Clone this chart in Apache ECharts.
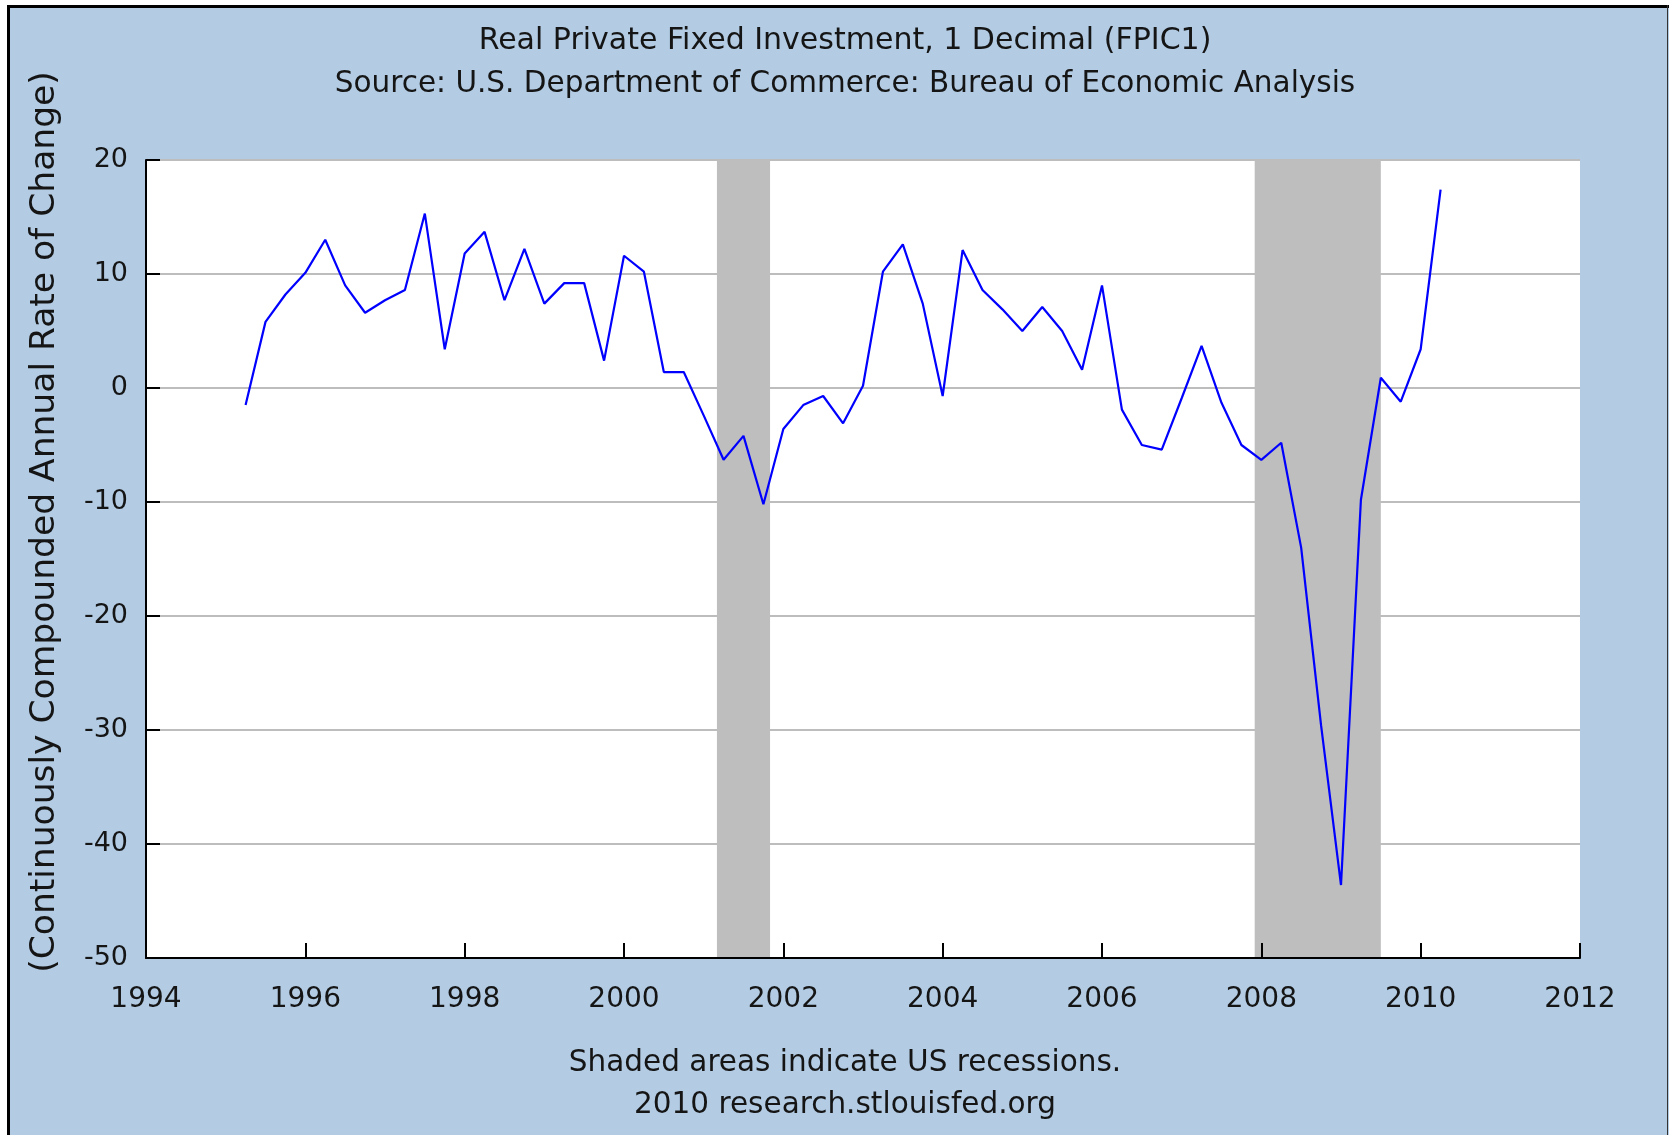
<!DOCTYPE html>
<html>
<head>
<meta charset="utf-8">
<script src="https://cdn.jsdelivr.net/npm/echarts@6.0.0/dist/echarts.min.js"></script>
<style>
  html, body { margin: 0; padding: 0; background: #fff; }
  #chart { position: absolute; left: 0; top: 0; width: 1669px; height: 1135px; }
  .edge { position: absolute; }
</style>
</head>
<body>
<div id="chart"></div>
<div class="edge" style="left:0;top:0;width:1669px;height:5px;background:#fff"></div>
<div class="edge" style="left:0;top:0;width:7px;height:1135px;background:#fff"></div>
<div class="edge" style="left:7px;top:5px;width:1662px;height:3px;background:#000"></div>
<div class="edge" style="left:7px;top:5px;width:3px;height:1130px;background:#000"></div>
<div class="edge" style="left:1667px;top:5px;width:1px;height:1130px;background:#333"></div>
<script>
// quarterly observations, FRED style dates (first day of the quarter)
var quarterDates = [
    '1995-04-01', '1995-07-01', '1995-10-01',
    '1996-01-01', '1996-04-01', '1996-07-01', '1996-10-01',
    '1997-01-01', '1997-04-01', '1997-07-01', '1997-10-01',
    '1998-01-01', '1998-04-01', '1998-07-01', '1998-10-01',
    '1999-01-01', '1999-04-01', '1999-07-01', '1999-10-01',
    '2000-01-01', '2000-04-01', '2000-07-01', '2000-10-01',
    '2001-01-01', '2001-04-01', '2001-07-01', '2001-10-01',
    '2002-01-01', '2002-04-01', '2002-07-01', '2002-10-01',
    '2003-01-01', '2003-04-01', '2003-07-01', '2003-10-01',
    '2004-01-01', '2004-04-01', '2004-07-01', '2004-10-01',
    '2005-01-01', '2005-04-01', '2005-07-01', '2005-10-01',
    '2006-01-01', '2006-04-01', '2006-07-01', '2006-10-01',
    '2007-01-01', '2007-04-01', '2007-07-01', '2007-10-01',
    '2008-01-01', '2008-04-01', '2008-07-01', '2008-10-01',
    '2009-01-01', '2009-04-01', '2009-07-01', '2009-10-01',
    '2010-01-01', '2010-04-01'
];
var fpic1 = [
    -1.5, 5.8, 8.2,
    10.1, 13.0, 9.0, 6.6,
    7.7, 8.6, 15.3, 3.4,
    11.8, 13.7, 7.7, 12.2,
    7.4, 9.2, 9.2, 2.4,
    11.6, 10.2, 1.4, 1.4,
    -2.4, -6.3, -4.2, -10.2,
    -3.6, -1.5, -0.7, -3.1,
    0.2, 10.2, 12.6, 7.4,
    -0.7, 12.1, 8.6, 6.9,
    5.0, 7.1, 5.0, 1.6,
    9.0, -1.9, -5.0, -5.4,
    -0.9, 3.7, -1.3, -5.0,
    -6.3, -4.8, -14.0, -29.6,
    -43.6, -9.8, 0.9, -1.2,
    3.4, 17.4
];
var recessionStart = ['2001-03-01', '2007-12-01'];
var recessionEnd = ['2001-11-01', '2009-07-01'];

var titleText = 'Real Private Fixed Investment, 1 Decimal (FPIC1)';
var subText = 'Source: U.S. Department of Commerce: Bureau of Economic Analysis';
var yName = '(Continuously Compounded Annual Rate of Change)';
var note1 = 'Shaded areas indicate US recessions.';
var note2 = '2010 research.stlouisfed.org';

// date string -> fractional year, so a plain value axis can place it
function toYear(s) {
    var p = s.split('-');
    return +p[0] + (+p[1] - 1) / 12 + (+p[2] - 1) / 365;
}

var lineData = quarterDates.map(function (d, i) { return [toYear(d), fpic1[i]]; });
var shade = recessionStart.map(function (s, i) {
    return [{ xAxis: toYear(s) }, { xAxis: toYear(recessionEnd[i]) }];
});

var font = '"DejaVu Sans", Verdana, sans-serif';
var ink = '#151515';

function label(text, x, y, size, rot) {
    return {
        type: 'text', x: x, y: y, rotation: rot || 0,
        style: { text: text, font: size + 'px ' + font, fill: ink, textAlign: 'center', textVerticalAlign: 'middle' }
    };
}

var gChart = echarts.init(document.getElementById('chart'));
var option = {
    backgroundColor: '#b3cce4',
    animation: false,
    grid: {
        left: 146, right: 89, top: 160, bottom: 177,
        show: true, backgroundColor: '#fff', borderWidth: 0
    },
    graphic: [
        label(titleText, 845, 41, 30),
        label(subText, 845, 84, 29.5),
        label(note1, 845, 1063, 29.5),
        label(note2, 845, 1105, 29.5),
        label(yName, 45, 522, 34.5, Math.PI / 2)
    ],
    xAxis: {
        type: 'value', min: 1994, max: 2012, interval: 2, z: 5,
        axisLine: { show: true, onZero: false, lineStyle: { color: '#000', width: 2 } },
        axisTick: { show: true, inside: true, length: 15, lineStyle: { color: '#000', width: 2 } },
        axisLabel: { fontSize: 28, fontFamily: font, color: ink, margin: 28, formatter: function (v) { return String(v); } },
        splitLine: { show: false }
    },
    yAxis: {
        type: 'value', min: -50, max: 20, interval: 10, z: 0,
        axisLine: { show: true, lineStyle: { color: '#000', width: 2 } },
        axisTick: { show: true, inside: true, length: 14, lineStyle: { color: '#000', width: 2 } },
        axisLabel: { fontSize: 27, fontFamily: font, color: ink, margin: 18 },
        splitLine: { show: true, lineStyle: { color: '#bdbdbd', width: 2 } }
    },
    series: [
        {
            name: 'recessions', type: 'line', data: [], z: 1, silent: true,
            markArea: { silent: true, itemStyle: { color: '#bebebe', opacity: 1 }, data: shade }
        },
        {
            name: 'FPIC1', type: 'line', data: lineData, z: 3,
            symbol: 'none', lineStyle: { color: '#0000ff', width: 2.2 }
        }
    ]
};
gChart.setOption(option);
</script>
</body>
</html>
